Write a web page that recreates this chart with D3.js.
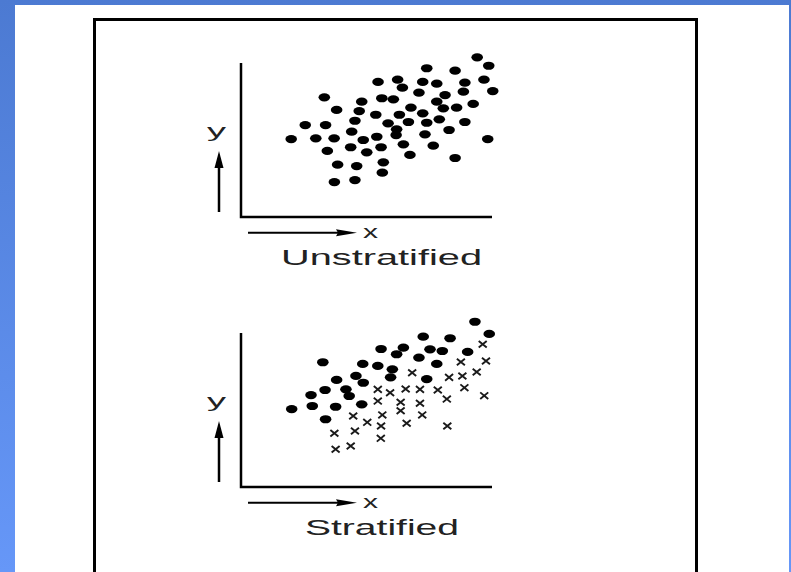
<!DOCTYPE html>
<html>
<head>
<meta charset="utf-8">
<script src="https://cdn.jsdelivr.net/npm/d3@7"></script>
<style>
  body { margin: 0; overflow: hidden; }
  text { font-family: 'Liberation Sans', Arial, sans-serif; fill: #222; }
</style>
</head>
<body>
<div class="canvas"></div>
<script>
const canvasWidth = 791;
const canvasHeight = 572;

// top panel: one group of dots
const unstratX = [9.41, 9.87, 7.40, 8.53, 5.46, 6.24, 7.24, 7.80, 8.92, 9.68, 6.43, 7.09, 8.13, 8.86, 10.03,
	3.32, 4.81, 5.61, 6.07, 7.80, 9.25, 3.81, 4.71, 6.77, 8.06, 8.59, 5.37, 6.31, 7.24, 4.54, 6.67,
	7.40, 7.90, 8.92, 2.56, 3.37, 5.86, 6.20, 4.41, 8.29, 2.00, 2.98, 3.71, 4.87, 5.41, 6.18, 7.33,
	9.83, 3.44, 4.37, 5.01, 5.58, 6.47, 7.66, 6.73, 8.53, 3.85, 4.61, 5.67, 5.63, 3.72, 4.54];
const unstratY = [10.37, 9.82, 9.66, 9.50, 8.77, 8.92, 8.77, 8.66, 8.72, 8.92, 8.40, 8.07, 7.92, 8.14, 8.18,
	7.77, 7.49, 7.71, 7.64, 7.49, 7.34, 6.95, 6.88, 7.10, 7.06, 7.10, 6.64, 6.64, 6.73, 6.25, 6.17,
	6.12, 6.34, 6.17, 5.97, 5.97, 6.08, 5.69, 5.54, 5.65, 5.06, 5.11, 5.11, 5.00, 5.21, 5.32, 5.37,
	5.06, 4.29, 4.53, 4.20, 4.53, 4.72, 4.63, 4.03, 3.83, 3.40, 3.31, 3.55, 2.88, 2.27, 2.40];

// bottom panel: dots (one stratum) and crosses (the other)
const stratDotX = [9.32, 9.89, 7.26, 8.33, 5.58, 6.47, 6.20, 7.53, 8.02, 9.03, 7.09, 3.26, 4.85, 5.45, 6.03,
	7.80, 4.58, 5.96, 7.40, 3.81, 4.87, 2.79, 3.35, 4.18, 4.31, 2.02, 2.84, 3.77, 4.81, 3.37];
const stratDotY = [10.73, 9.94, 9.76, 9.66, 8.96, 9.05, 8.62, 8.94, 8.83, 8.77, 8.40, 8.10, 7.99, 7.86, 7.64,
	7.99, 7.21, 7.12, 7.01, 6.95, 6.77, 5.97, 6.30, 6.34, 5.91, 5.06, 5.26, 5.21, 5.37, 4.40];
const stratCrossX = [9.63, 8.76, 9.76, 6.82, 8.29, 8.82, 9.39, 5.45, 5.94, 6.56, 7.13, 7.84, 8.90, 8.20, 9.69,
	5.45, 6.36, 7.13, 4.47, 5.63, 6.36, 7.22, 5.03, 5.58, 6.60, 8.22, 3.72, 4.54, 5.57, 3.77, 4.37];
const stratCrossY = [9.27, 8.12, 8.18, 7.42, 7.12, 7.21, 7.47, 6.34, 6.12, 6.36, 6.34, 6.30, 6.45, 5.71, 5.93,
	5.58, 5.50, 5.44, 4.61, 4.68, 4.95, 4.68, 4.20, 3.96, 4.14, 3.96, 3.49, 3.64, 3.16, 2.45, 2.66];

const panelTitles = ['Unstratified', 'Stratified'];

const svg = d3.select('.canvas')
	.append('svg')
	.attr('width', canvasWidth)
	.attr('height', canvasHeight);

const defs = svg.append('defs');
const grad = defs.append('linearGradient')
	.attr('id', 'blue')
	.attr('x1', 0).attr('y1', 0).attr('x2', 0).attr('y2', 1);
grad.append('stop').attr('offset', '0%').attr('stop-color', '#4c7ad2');
grad.append('stop').attr('offset', '100%').attr('stop-color', '#6697f8');

// slide background and white page
svg.append('rect')
	.attr('width', canvasWidth)
	.attr('height', canvasHeight)
	.attr('fill', 'url(#blue)');
svg.append('rect')
	.attr('x', 15).attr('y', 5)
	.attr('width', 774).attr('height', canvasHeight - 5)
	.attr('fill', '#fff');

// framed figure
svg.append('rect')
	.attr('x', 94.5).attr('y', 19.5)
	.attr('width', 602).attr('height', 600)
	.attr('fill', 'none')
	.attr('stroke', '#000')
	.attr('stroke-width', 3);

const x = d3.scaleLinear().domain([0, 10]).range([241, 492]);
const y = d3.scaleLinear().domain([0, 10]).range([154, 0]);

function drawPanel(top) {
	const g = svg.append('g').attr('transform', `translate(0,${top})`);

	// axes as plain lines
	g.append('path')
		.attr('d', `M${x(0)},${y(10)} V${y(0)} H${x(10)}`)
		.attr('fill', 'none')
		.attr('stroke', '#000')
		.attr('stroke-width', 2.5);

	// y arrow
	g.append('line')
		.attr('x1', 219).attr('x2', 219)
		.attr('y1', y(0) - 5).attr('y2', y(0) - 52)
		.attr('stroke', '#000').attr('stroke-width', 2.5);
	g.append('path')
		.attr('d', `M219,${y(0) - 66} L214.5,${y(0) - 49} L223.5,${y(0) - 49} Z`)
		.attr('fill', '#000');
	g.append('text')
		.attr('x', 207).attr('y', y(0) - 80)
		.attr('font-size', 18)
		.attr('textLength', 19)
		.attr('lengthAdjust', 'spacingAndGlyphs')
		.text('y');

	// x arrow
	g.append('line')
		.attr('x1', 248).attr('x2', 340)
		.attr('y1', y(0) + 15.7).attr('y2', y(0) + 15.7)
		.attr('stroke', '#000').attr('stroke-width', 2);
	g.append('path')
		.attr('d', `M357,${y(0) + 15.7} L336,${y(0) + 12.2} L338,${y(0) + 15.7} L336,${y(0) + 19.2} Z`)
		.attr('fill', '#000');
	g.append('text')
		.attr('x', 363).attr('y', y(0) + 20.7)
		.attr('font-size', 19)
		.attr('textLength', 15)
		.attr('lengthAdjust', 'spacingAndGlyphs')
		.text('x');

	return g;
}

const topPanel = drawPanel(63);
const botPanel = drawPanel(333);

topPanel.append('text')
	.attr('x', 281).attr('y', 265 - 63)
	.attr('font-size', 22)
	.attr('textLength', 201)
	.attr('lengthAdjust', 'spacingAndGlyphs')
	.text(panelTitles[0]);

botPanel.append('text')
	.attr('x', 305).attr('y', 535 - 333)
	.attr('font-size', 22)
	.attr('textLength', 154)
	.attr('lengthAdjust', 'spacingAndGlyphs')
	.text(panelTitles[1]);

const topDots = d3.zip(unstratX, unstratY);
topPanel.selectAll('ellipse')
	.data(topDots)
	.enter()
	.append('ellipse')
	.attr('cx', d => x(d[0]))
	.attr('cy', d => y(d[1]))
	.attr('rx', 5.8)
	.attr('ry', 4.1)
	.attr('fill', '#000');

const botDots = d3.zip(stratDotX, stratDotY);
botPanel.selectAll('ellipse')
	.data(botDots)
	.enter()
	.append('ellipse')
	.attr('cx', d => x(d[0]))
	.attr('cy', d => y(d[1]))
	.attr('rx', 5.8)
	.attr('ry', 4.1)
	.attr('fill', '#000');

const crosses = d3.zip(stratCrossX, stratCrossY);
botPanel.selectAll('path.cross')
	.data(crosses)
	.enter()
	.append('path')
	.attr('class', 'cross')
	.attr('d', d => {
		const cx = x(d[0]), cy = y(d[1]);
		return `M${cx - 4},${cy - 3.3} L${cx + 4},${cy + 3.3} M${cx - 4},${cy + 3.3} L${cx + 4},${cy - 3.3}`;
	})
	.attr('stroke', '#1a1a1a')
	.attr('stroke-width', 1.9)
	.attr('fill', 'none');
</script>
</body>
</html>
